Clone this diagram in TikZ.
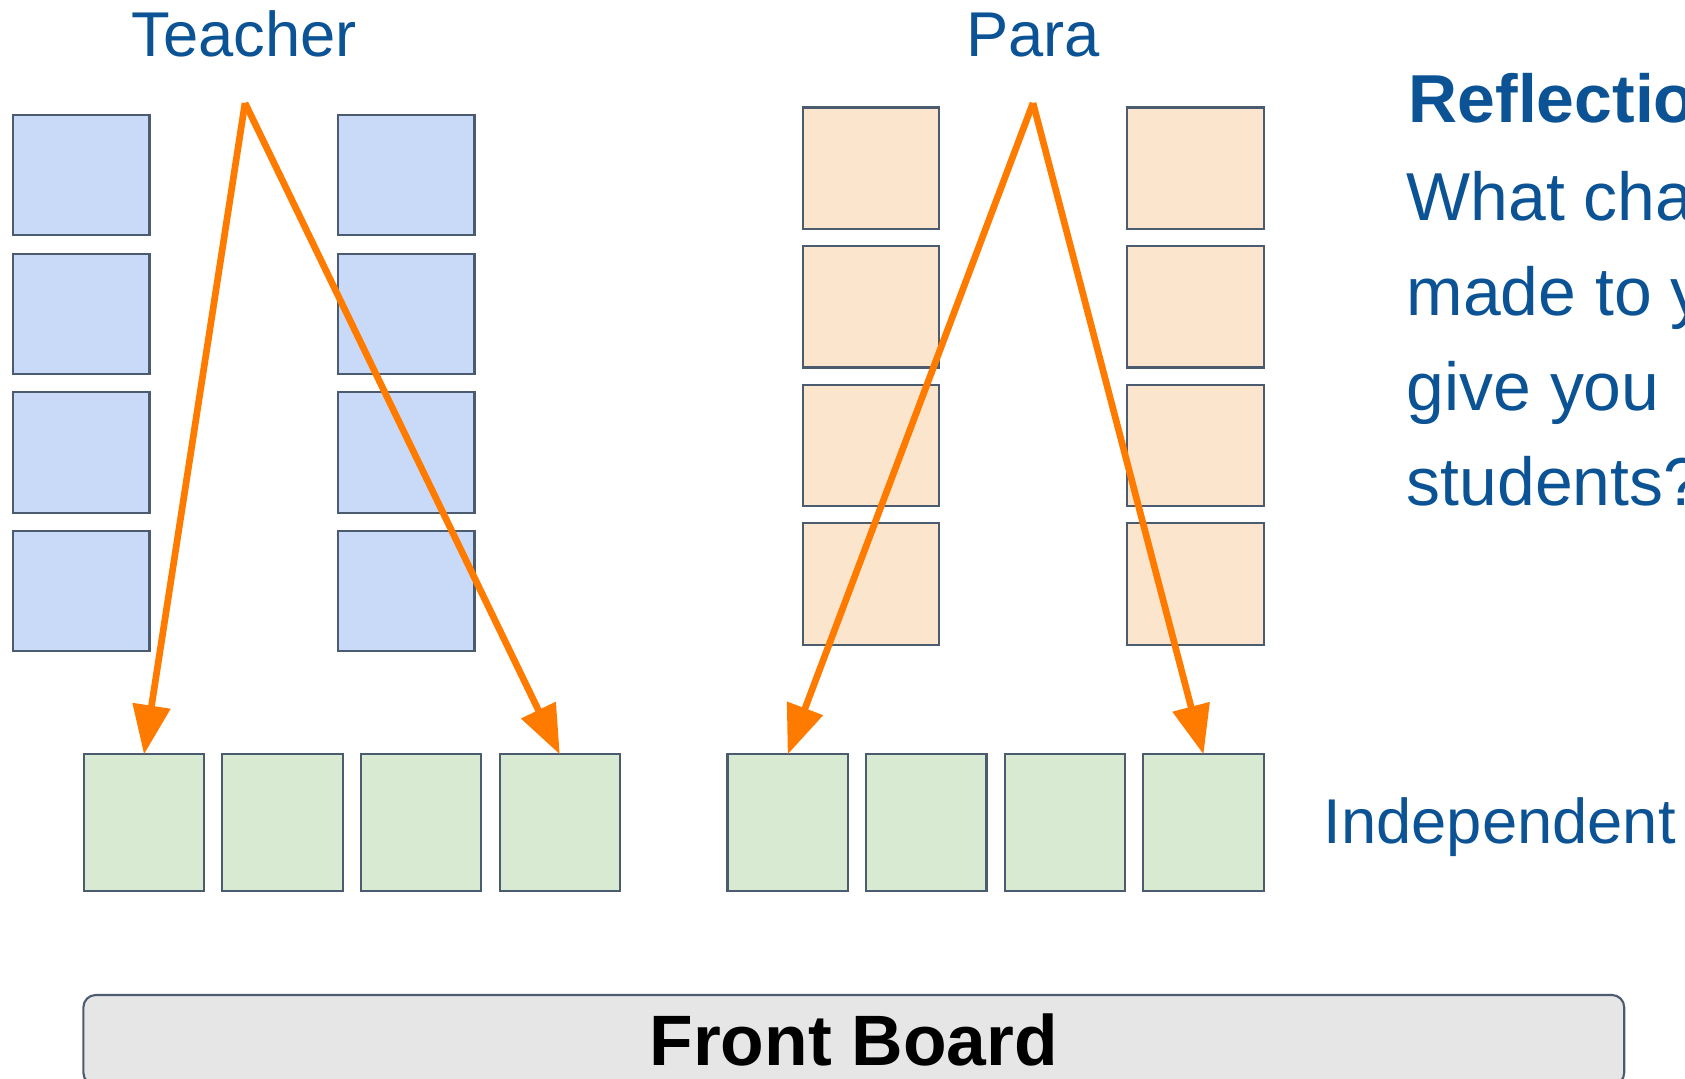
\documentclass[tikz,border=0pt]{standalone}
\usepackage{fontspec}
\setsansfont{Liberation Sans}
\usepackage{xcolor}
\definecolor{SlideBlue}{HTML}{0B5394}
\definecolor{DeskBlue}{HTML}{C9DAF8}
\definecolor{DeskPeach}{HTML}{FCE5CD}
\definecolor{DeskGreen}{HTML}{D9EAD3}
\definecolor{PathOrange}{HTML}{FF7B00}
\definecolor{EdgeGray}{HTML}{4B5B70}
\definecolor{BoardGray}{HTML}{E6E6E6}
\usepackage{tikz}
\usetikzlibrary{arrows.meta}

\begin{document}
\begin{tikzpicture}[
    x=0.01cm, y=-0.01cm,
    font=\sffamily,
    desk/.style={draw=EdgeGray, line width=0.6pt, inner sep=0pt, outer sep=0pt},
    desk_blue/.style={desk, fill=DeskBlue, minimum width=1.365cm, minimum height=1.204cm},
    desk_peach/.style={desk, fill=DeskPeach, minimum width=1.365cm, minimum height=1.214cm},
    desk_green/.style={desk, fill=DeskGreen, minimum width=1.204cm, minimum height=1.365cm},
    watch_arrow/.style={-{Triangle[length=14pt, width=10.5pt]}, PathOrange, line width=1.9pt},
    role_label/.style={text=SlideBlue, font=\sffamily\fontsize{18}{21}\selectfont, inner sep=0pt},
    note_text/.style={text=SlideBlue, font=\sffamily\fontsize{19.3}{23}\selectfont, inner sep=0pt, anchor=base west}
]

    % 0. CANVAS
    \clip (0,0) rectangle (1685,1079);

    % 1. TEACHER SIDE (blue desks)
    \foreach \row in {0,...,3} {
        \node[desk_blue] (tl\row) at (81.2, {175.2+138.6*\row}) {};
        \node[desk_blue] (tr\row) at (406.2, {175.2+138.6*\row}) {};
    }

    % 2. PARA SIDE (peach desks)
    \foreach \row in {0,...,3} {
        \node[desk_peach] (pl\row) at (871, {168.2+138.6*\row}) {};
        \node[desk_peach] (pr\row) at (1195.5, {168.2+138.6*\row}) {};
    }

    % 3. INDEPENDENT ROW (green desks)
    \foreach \i in {1,...,4} {
        \node[desk_green] (g\i) at ({144+138.6*(\i-1)}, 822.7) {};
    }
    \foreach \i in {5,...,8} {
        \node[desk_green] (g\i) at ({787.7+138.6*(\i-5)}, 822.7) {};
    }

    % 4. LABELS
    \node[role_label, anchor=base] (teacher) at (244, 57) {Teacher};
    \node[role_label, anchor=base] (para) at (1033, 57) {Para};
    \node[role_label, anchor=base west] (indep) at (1323, 843) {Independent};

    % 5. WALKING PATHS
    \coordinate (teach_pt) at (245, 103);
    \coordinate (para_pt) at (1033, 103);
    \draw[watch_arrow] (teach_pt) -- (g1.north);
    \draw[watch_arrow] (teach_pt) -- (g4.north);
    \draw[watch_arrow] (para_pt) -- (g5.north);
    \draw[watch_arrow] (para_pt) -- (g8.north);

    % 6. REFLECTION
    \node[note_text, font=\sffamily\bfseries\fontsize{19.3}{23}\selectfont] (refl) at (1408, 123) {Reflection};
    \node[note_text] (q1) at (1406, 220) {What changes};
    \node[note_text] (q2) at (1406, 315) {made to your};
    \node[note_text] (q3) at (1406, 410) {give you};
    \node[note_text] (q4) at (1406, 505) {students?};

    % 7. FRONT BOARD
    \node[draw=EdgeGray, line width=0.6pt, fill=BoardGray, rounded corners=3.5pt,
          minimum width=15.399cm, minimum height=0.9cm,
          font=\sffamily\bfseries\fontsize{20.3}{24}\selectfont] (board) at (853.8, 1040) {Front Board};

\end{tikzpicture}
\end{document}
